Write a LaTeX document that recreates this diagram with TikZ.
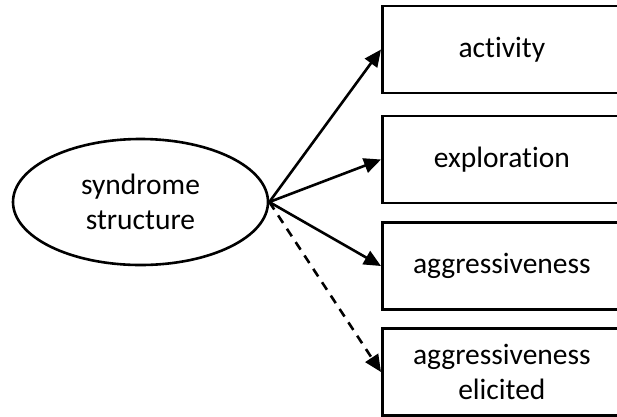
\documentclass[tikz,border=0pt]{standalone}
\usepackage{fontspec}
\setmainfont{Carlito}[RawFeature=-liga]
\usetikzlibrary{arrows.meta,shapes.geometric}
\begin{document}
\begin{tikzpicture}[x=1pt,y=-1pt,
  every node/.style={font=\fontsize{29.5}{35}\selectfont},
  trait/.style={draw, line width=2.7pt, minimum width=239pt, minimum height=87pt,
    inner sep=0pt, anchor=west, align=center},
  latent/.style={draw, ellipse, line width=2.6pt, minimum width=255pt,
    minimum height=126pt, inner sep=0pt, align=center},
  link/.style={line width=2.6pt, -{Triangle[length=17pt,width=15pt]}},
  weaklink/.style={link, dash pattern=on 9pt off 7pt}]
\useasboundingbox (0,0) rectangle (617,416);
\clip (0,0) rectangle (617,416);

% latent factor
\node[latent] (syn) at (140.5,202) {syndrome\\structure};

% observed behaviours
\node[trait] (act) at (381,49.5)  {activity};
\node[trait] (exp) at (381,159.5) {exploration};
\node[trait] (agg) at (381,266)   {aggressiveness};
\node[trait] (eli) at (381,372)   {aggressiveness\\elicited};

% loadings
\draw[link] (syn.east) -- (act.west);
\draw[link] (syn.east) -- (exp.west);
\draw[link] (syn.east) -- (agg.west);
\draw[weaklink] (syn.east) -- (eli.west);
\end{tikzpicture}
\end{document}
